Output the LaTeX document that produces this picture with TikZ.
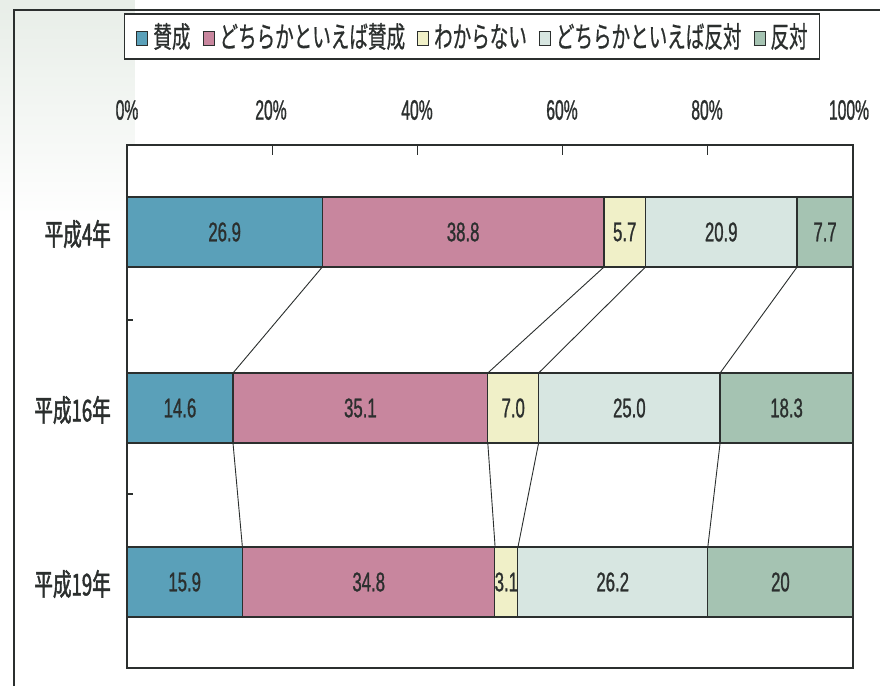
\documentclass[tikz,border=0pt]{standalone}
\usepackage{fontspec}
\usepackage{xcolor}
\usepackage{graphicx}
\usetikzlibrary{fadings}
\newfontfamily\cjk[FakeStretch=0.64,FakeBold=0.6]{Noto Sans CJK JP}
\newfontfamily\cjkb[FakeStretch=0.62,FakeBold=1.5]{Noto Sans CJK JP}
\newfontfamily\numf[FakeStretch=0.62,FakeBold=0.9]{Liberation Sans}
\newfontfamily\pctf[FakeStretch=0.56,FakeBold=0.9]{Liberation Sans}
\definecolor{cA}{HTML}{5AA0B9}
\definecolor{cB}{HTML}{C8869E}
\definecolor{cC}{HTML}{F0F0C8}
\definecolor{cD}{HTML}{D7E6E1}
\definecolor{cE}{HTML}{A5C3B2}
\definecolor{ink}{HTML}{2B2F2E}
\definecolor{bgtint}{HTML}{E8EEE8}
\newcommand\lsq[1]{{\setlength\fboxsep{0pt}\setlength\fboxrule{1pt}\raisebox{2pt}{\fcolorbox{ink}{#1}{\makebox[10pt]{\rule{0pt}{13pt}}}}}}
\newcommand\seg[6]{%
  \pgfmathsetmacro\segw{#3-#2}\pgfmathsetmacro\segc{(#2+#3)/2}%
  \node[segbox, fill=#5, minimum width=\segw pt] (#1) at (\segc,#4) {#6};}
\begin{document}
\begin{tikzpicture}[x=1pt,y=-1pt,
  segbox/.style={draw=ink, line width=1.3pt, rectangle, inner sep=0pt, outer sep=0pt,
    minimum height=70pt, font=\numf\fontsize{27}{27}\selectfont, text=ink},
  conn/.style={draw=ink, line width=0.9pt},
  rowlab/.style={anchor=east, font=\cjkb\fontsize{30}{30}\selectfont, text=ink, inner sep=0pt},
  pct/.style={font=\pctf\fontsize{28}{28}\selectfont, text=ink, inner sep=0pt},
  legendbox/.style={draw=ink, line width=1.1pt, minimum width=695pt, minimum height=45pt,
    inner sep=0pt, font=\cjk\fontsize{29}{29}\selectfont, text=ink},
  framel/.style={draw=ink, line width=1.3pt},
  axisl/.style={draw=ink, line width=1.2pt}]
\useasboundingbox (0,0) rectangle (880,686);
\fill[white] (0,0) rectangle (880,686);
\fill[bgtint, path fading=south] (0,0) rectangle (135,220);
% outer frame
\draw[framel] (14,686) -- (14,10) -- (880,10);
% legend
\node[legendbox, fill=white] (legend) at (472,36.5) {\lsq{cA}\hspace{5pt}賛成\hspace{12pt}\lsq{cB}\hspace{5pt}どちらかといえば賛成\hspace{12pt}\lsq{cC}\hspace{5pt}わからない\hspace{12pt}\lsq{cD}\hspace{5pt}どちらかといえば反対\hspace{12pt}\lsq{cE}\hspace{5pt}反対};
% percent labels
\node[pct] (p0) at (127,110) {0\%};
\node[pct] (p20) at (271,110) {20\%};
\node[pct] (p40) at (417,110) {40\%};
\node[pct] (p60) at (562,110) {60\%};
\node[pct] (p80) at (707,110) {80\%};
\node[pct] (p100) at (849,110) {100\%};
% plot area
\fill[white] (127,145) rectangle (853,668);
\draw[axisl] (127,145) rectangle (853,668);
\foreach \xx in {272.2,417.4,562.6,707.8} {\draw[axisl] (\xx,145) -- (\xx,155);}
\foreach \yy in {320,494} {\draw[axisl] (127,\yy) -- (133,\yy);}
% row labels
\node[rowlab] (l1) at (111,234) {平成4年};
\node[rowlab] (l2) at (111,410) {平成16年};
\node[rowlab] (l3) at (111,584) {平成19年};
% row 1
\seg{a1}{127}{322.3}{232}{cA}{26.9}
\seg{a2}{322.3}{604.0}{232}{cB}{38.8}
\seg{a3}{604.0}{645.4}{232}{cC}{5.7}
\seg{a4}{645.4}{797.1}{232}{cD}{20.9}
\seg{a5}{797.1}{853}{232}{cE}{7.7}
% row 2
\seg{b1}{127}{233.0}{408}{cA}{14.6}
\seg{b2}{233.0}{487.8}{408}{cB}{35.1}
\seg{b3}{487.8}{538.6}{408}{cC}{7.0}
\seg{b4}{538.6}{720.1}{408}{cD}{25.0}
\seg{b5}{720.1}{853}{408}{cE}{18.3}
% row 3
\seg{c1}{127}{242.4}{582}{cA}{15.9}
\seg{c2}{242.4}{495.1}{582}{cB}{34.8}
\seg{c3}{495.1}{517.6}{582}{cC}{3.1}
\seg{c4}{517.6}{707.8}{582}{cD}{26.2}
\seg{c5}{707.8}{853}{582}{cE}{20}
% connectors
\foreach \i in {1,...,4} {
  \draw[conn] (a\i.south east) -- (b\i.north east);
  \draw[conn] (b\i.south east) -- (c\i.north east);
}
\end{tikzpicture}
\end{document}
